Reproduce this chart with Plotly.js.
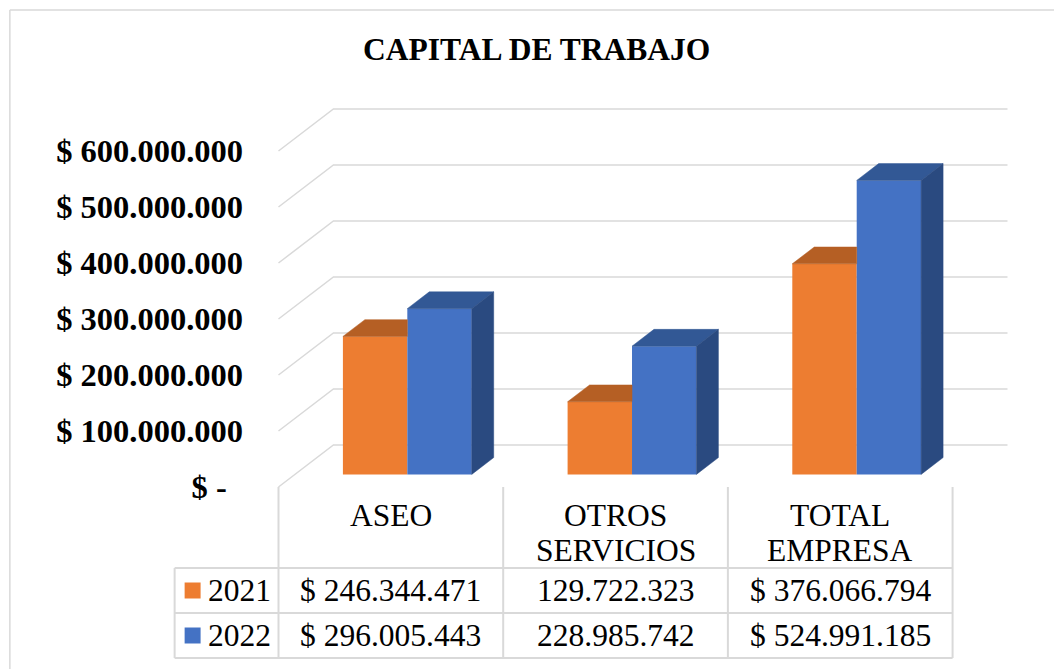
<!DOCTYPE html>
<html><head><meta charset="utf-8">
<script src="https://cdn.plot.ly/plotly-3.0.1.min.js"></script>
<style>html,body{margin:0;padding:0;background:#fff;}#chart{width:1054px;height:669px;}</style>
</head><body><div id="chart"></div>
<script>
// ---- data ----
const categories = ["ASEO", "OTROS SERVICIOS", "TOTAL EMPRESA"];
const seriesNames = ["2021", "2022"];
const values2021 = [246344471, 129722323, 376066794];
const values2022 = [296005443, 228985742, 524991185];
const table2021 = ["$ 246.344.471", "129.722.323", "$ 376.066.794"];
const table2022 = ["$ 296.005.443", "228.985.742", "$ 524.991.185"];
const yTickVals = [0, 100000000, 200000000, 300000000, 400000000, 500000000, 600000000];
const yTickText = ["$ -\u00a0\u00a0", "$ 100.000.000", "$ 200.000.000", "$ 300.000.000", "$ 400.000.000", "$ 500.000.000", "$ 600.000.000"];
const colors = {front: ["#ED7D31", "#4472C4"], top: ["#B55F24", "#325895"], side: ["#B55F24", "#2A4A80"]};

// ---- layout geometry ----
const W = 1054, H = 669;
const X0PX = 278, PX_PER_CAT = 225;
const Y0PX = 487, PXV = 56 / 100000000;
const T = 95, B = 665;
const xr = [-0.02, 3.26];
const L = X0PX + xr[0] * PX_PER_CAT;
const plotW = (xr[1] - xr[0]) * PX_PER_CAT;
const R = W - L - plotW;
const yr = [(Y0PX - B) / PXV, (Y0PX - T) / PXV];
const DX = 55 / PX_PER_CAT, DY = 42 / PXV;          // full floor depth
const fFront = 0.3, fBack = 0.7;
const barW = 64.5 / PX_PER_CAT;
const px = q => (q - L) / plotW;
const py = p => (B - p) / (B - T);
const paperFromX = xd => (xd - xr[0]) / (xr[1] - xr[0]);

const n = categories.length;
const centers = categories.map((c, i) => i + 0.5 + fFront * DX);
const baseY = fFront * DY;
const ddx = (fBack - fFront) * DX, ddy = (fBack - fFront) * DY;

const traces = [];
const series = [values2021, values2022];
series.forEach((vals, s) => {
  traces.push({
    type: "bar", name: seriesNames[s], x: centers, y: vals,
    base: centers.map(() => baseY), width: barW, offset: s === 0 ? -barW : 0,
    marker: {color: colors.front[s], line: {width: 0}}, hoverinfo: "skip", showlegend: false
  });
});
// top faces and side faces
series.forEach((vals, s) => {
  const tx = [], ty = [], sx = [], sy = [];
  vals.forEach((v, i) => {
    const x0 = s === 0 ? centers[i] - barW : centers[i];
    const x1 = x0 + barW;
    const top = baseY + v;
    if (s === 0) {
      // visible part of top face (right part hidden behind taller 2022 bar)
      tx.push(x0, x1, x1, x0 + ddx, x0, null);
      ty.push(top, top, top + ddy, top + ddy, top, null);
    } else {
      tx.push(x0, x1, x1 + ddx, x0 + ddx, x0, null);
      ty.push(top, top, top + ddy, top + ddy, top, null);
      sx.push(x1, x1 + ddx, x1 + ddx, x1, x1, null);
      sy.push(baseY, baseY + ddy, top + ddy, top, baseY, null);
    }
  });
  traces.push({type: "scatter", mode: "lines", x: tx, y: ty, fill: "toself", fillcolor: colors.top[s],
    line: {color: colors.top[s], width: 0.5}, hoverinfo: "skip", showlegend: false});
  if (sx.length) traces.push({type: "scatter", mode: "lines", x: sx, y: sy, fill: "toself", fillcolor: colors.side[s],
    line: {color: colors.side[s], width: 0.5}, hoverinfo: "skip", showlegend: false});
});

// ---- shapes ----
const gridC = "#D9D9D9";
const shapes = [];
yTickVals.forEach(v => {
  shapes.push({type: "path", xref: "x", yref: "y", layer: "below",
    path: `M 0,${v} L ${DX},${v + DY} L ${n + DX},${v + DY}`,
    line: {color: gridC, width: 1.5}});
});
// outer border (top and left)
shapes.push({type: "line", xref: "paper", yref: "paper", x0: px(9), x1: px(W + 5), y0: py(10), y1: py(10), line: {color: gridC, width: 1.5}});
shapes.push({type: "line", xref: "paper", yref: "paper", x0: px(9), x1: px(9), y0: py(10), y1: py(H + 5), line: {color: gridC, width: 1.5}});
// data table
const rowTop = 568, rowMid = 613, rowBot = 658, legL = 174;
for (let i = 0; i <= n; i++) {
  shapes.push({type: "line", xref: "paper", yref: "paper", x0: paperFromX(i), x1: paperFromX(i), y0: py(Y0PX), y1: py(rowBot), line: {color: gridC, width: 2}});
}
shapes.push({type: "line", xref: "paper", yref: "paper", x0: px(legL), x1: px(legL), y0: py(rowTop), y1: py(rowBot), line: {color: gridC, width: 2}});
[rowTop, rowMid, rowBot].forEach(p => {
  shapes.push({type: "line", xref: "paper", yref: "paper", x0: px(legL), x1: paperFromX(n), y0: py(p), y1: py(p), line: {color: gridC, width: 2}});
});
// legend keys
const rowCenters = [(rowTop + rowMid) / 2, (rowMid + rowBot) / 2];
rowCenters.forEach((c, s) => {
  shapes.push({type: "rect", xref: "paper", yref: "paper", x0: px(184), x1: px(200), y0: py(c + 8), y1: py(c - 8),
    fillcolor: colors.front[s], line: {width: 0}});
});

// ---- annotations ----
const fam = "Liberation Serif";
const tSize = 31.5;
const annotations = [];
categories.forEach((c, i) => {
  const parts = c.split(" ");
  const lines = parts.length > 1 ? [parts[0], parts.slice(1).join(" ")] : [c];
  lines.forEach((ln, k) => {
    annotations.push({xref: "paper", yref: "paper", x: paperFromX(i + 0.5), y: py(515 + 35 * k),
      text: ln, showarrow: false, xanchor: "center", yanchor: "middle",
      font: {family: fam, size: tSize, color: "#000"}});
  });
});
[table2021, table2022].forEach((row, s) => {
  annotations.push({xref: "paper", yref: "paper", x: px(205), y: py(rowCenters[s]), text: seriesNames[s],
    showarrow: false, xanchor: "left", yanchor: "middle", font: {family: fam, size: tSize, color: "#000"}});
  row.forEach((t, i) => {
    annotations.push({xref: "paper", yref: "paper", x: paperFromX(i + 0.5), y: py(rowCenters[s]), text: t,
      showarrow: false, xanchor: "center", yanchor: "middle", font: {family: fam, size: tSize, color: "#000"}});
  });
});

const layout = {
  width: W, height: H,
  margin: {l: L, r: R, t: T, b: H - B, pad: 0},
  paper_bgcolor: "#fff", plot_bgcolor: "rgba(0,0,0,0)",
  barmode: "overlay", showlegend: false,
  title: {text: "CAPITAL DE TRABAJO", xref: "paper", x: px(536.5), xanchor: "center",
    yref: "container", y: 1 - 49 / H, yanchor: "middle",
    font: {family: fam, size: 31.5, weight: "bold", color: "#000"}},
  xaxis: {range: xr, showgrid: false, zeroline: false, showticklabels: false, ticks: "", showline: false, fixedrange: true},
  yaxis: {range: yr, tickvals: yTickVals, ticktext: yTickText, showgrid: false, zeroline: false, showline: false,
    ticks: "", ticklabelstandoff: 30, tickfont: {family: fam, size: 32.5, weight: "bold", color: "#000"}, fixedrange: true},
  shapes: shapes, annotations: annotations
};
Plotly.newPlot("chart", traces, layout, {displayModeBar: false, staticPlot: true});
</script></body></html>
